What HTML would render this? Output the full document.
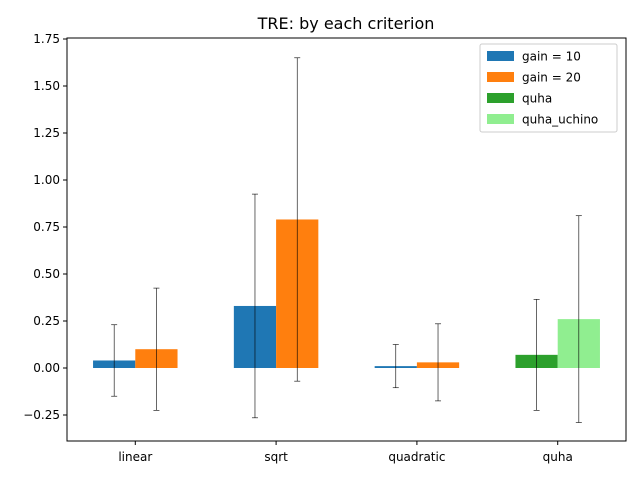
<!DOCTYPE html>
<html><head><meta charset="utf-8"><style>
body{margin:0;background:#fff;}
svg{font-family:"DejaVu Sans","Liberation Sans",sans-serif;}
</style></head><body>
<svg id="chart" width="640" height="480" xmlns="http://www.w3.org/2000/svg">
<rect width="640" height="480" fill="#fff"/>
<text x="346" y="29" font-size="16" text-anchor="middle">TRE: by each criterion</text>
<g id="plot"></g>
<rect x="67" y="38" width="559" height="403" fill="none" stroke="#000" stroke-width="1"/>
<g id="legend">
<rect x="480" y="44" width="137" height="88" fill="#fff" fill-opacity="0.8" stroke="#ccc" rx="2"/>
</g>
</svg>
<script>
const categories=["linear","sqrt","quadratic","quha"];
const seriesNames=["gain = 10","gain = 20","quha","quha_uchino"];
const seriesColors=["#1f77b4","#ff7f0e","#2ca02c","#90ee90"];
// per category: [left bar value, right bar value], and which series they are
const leftValues=[0.04,0.33,0.01,0.07];
const rightValues=[0.10,0.79,0.03,0.26];
const leftErrors=[0.19,0.595,0.115,0.295];
const rightErrors=[0.325,0.86,0.205,0.55];
const leftSeries=[0,0,0,2];
const rightSeries=[1,1,1,3];
const yTicks=[-0.25,0,0.25,0.5,0.75,1.0,1.25,1.5,1.75];
const yTickLabels=["−0.25","0.00","0.25","0.50","0.75","1.00","1.25","1.50","1.75"];

const NS="http://www.w3.org/2000/svg";
const L=67,R=626,T=38,B=441;
const xmin=-0.485,xmax=3.485,ymin=-0.38,ymax=1.765;
const xs=v=>L+(v-xmin)/(xmax-xmin)*(R-L);
const ys=v=>368-v*188;
const g=document.getElementById('plot');
function mk(tag,attrs){const e=document.createElementNS(NS,tag);for(const k in attrs)e.setAttribute(k,attrs[k]);return e;}
const bw=0.3;
function bar(ci,val,err,si,off,side){
  const x0=xs(ci+off-bw/2),x1=xs(ci+off+bw/2);
  const y0=ys(Math.max(val,0)),y1=ys(Math.min(val,0));
  const r=mk('rect',{x:x0,y:y0,width:x1-x0,height:y1-y0,fill:seriesColors[si]});
  
  
  g.appendChild(r);
  const cx=xs(ci+off);
  const eg=mk('g',{stroke:'#000','stroke-width':0.6});
  
  
  eg.appendChild(mk('line',{x1:cx,x2:cx,y1:ys(val+err),y2:ys(val-err)}));
  eg.appendChild(mk('line',{x1:cx-3,x2:cx+3,y1:ys(val+err),y2:ys(val+err)}));
  eg.appendChild(mk('line',{x1:cx-3,x2:cx+3,y1:ys(val-err),y2:ys(val-err)}));
  g.appendChild(eg);
}
categories.forEach((c,i)=>{
  bar(i,leftValues[i],leftErrors[i],leftSeries[i],-0.15,'left');
  bar(i,rightValues[i],rightErrors[i],rightSeries[i],0.15,'right');
  const x=xs(i);
  g.appendChild(mk('line',{x1:x,x2:x,y1:B,y2:B+4,stroke:'#000'}));
  const t=mk('text',{x:x,y:B+20,'font-size':12,'text-anchor':'middle'});
  t.textContent=c;
  
  
  g.appendChild(t);
});
yTicks.forEach((v,i)=>{
  const y=ys(v);
  g.appendChild(mk('line',{x1:L-4,x2:L,y1:y,y2:y,stroke:'#000'}));
  const t=mk('text',{x:L-7,y:y+4,'font-size':12,'text-anchor':'end'});
  t.textContent=yTickLabels[i];
  
  
  g.appendChild(t);
});
const lg=document.getElementById('legend');
seriesNames.forEach((n,i)=>{
  const y=56+i*21;
  const r=mk('rect',{x:487,y:y-5,width:27,height:10,fill:seriesColors[i]});
  
  
  lg.appendChild(r);
  const t=mk('text',{x:522,y:y+4.5,'font-size':12});
  t.textContent=n;
  
  
  lg.appendChild(t);
});
</script>
</body></html>
